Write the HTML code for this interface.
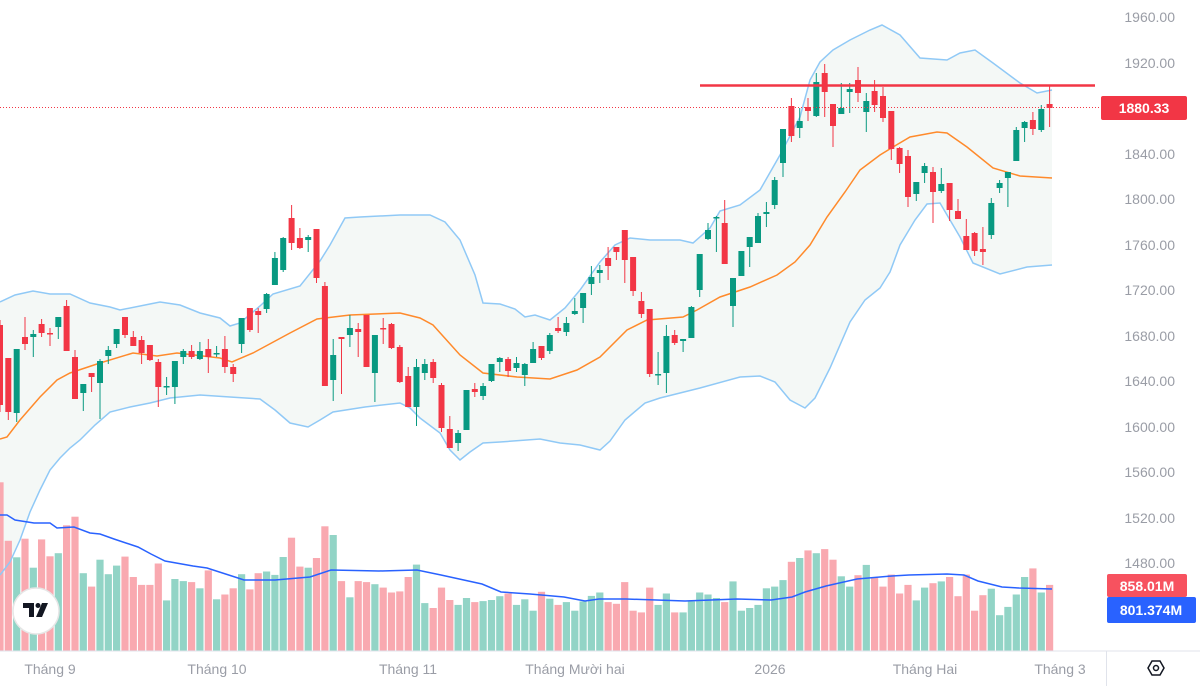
<!DOCTYPE html>
<html><head><meta charset="utf-8"><style>
html,body{margin:0;padding:0;background:#fff;}
svg{display:block;font-family:"Liberation Sans",sans-serif;}
</style></head><body>
<svg id="c" width="1200" height="686" xmlns="http://www.w3.org/2000/svg"></svg>
<script>
const S=document.getElementById('c');let h='';
const pts=a=>a.map(p=>p.join(',')).join(' ');
const U=[[0,302],[15,295],[33,291],[50,294],[70,294],[90,303],[110,307],[120,310],[150,304],[160,302],[180,305],[200,313],[220,318],[230,326],[240,323],[260,306],[273,294],[300,286],[320,261],[330,245],[345,218],[360,217],[400,215],[430,215],[445,222],[460,240],[475,275],[483,303],[500,304],[515,309],[525,317],[535,315],[550,320],[565,308],[580,290],[600,262],[615,245],[630,238],[650,240],[680,240],[693,243],[710,228],[720,211],[740,205],[760,190],[780,155],[800,117],[810,80],[820,62],[833,50],[850,40],[870,30],[882,25],[900,35],[920,58],[947,60],[960,53],[975,50],[993,63],[1020,83],[1037,93],[1052,90]];
const L=[[0,575],[10,562],[20,540],[30,512],[40,490],[50,470],[60,458],[70,448],[80,440],[95,425],[110,412],[130,407],[150,403],[170,398],[200,395],[230,397],[260,399],[275,410],[290,423],[308,427],[320,420],[333,412],[365,407],[400,403],[410,408],[420,418],[440,433],[450,450],[460,460],[470,452],[483,443],[500,442],[540,439],[560,443],[580,445],[600,450],[610,441],[625,420],[645,403],[660,398],[700,388],[740,377],[760,376],[775,382],[790,400],[805,408],[815,398],[830,368],[850,322],[865,300],[880,288],[890,272],[900,245],[915,220],[927,204],[940,203],[960,237],[973,263],[1000,274],[1027,267],[1052,265]];
const M=[[0,439],[7,437],[20,420],[40,397],[57,380],[70,373],[100,363],[133,353],[157,356],[177,353],[220,358],[232,362],[253,353],[290,333],[317,319],[350,315],[400,313],[420,318],[433,325],[460,355],[483,373],[517,377],[550,379],[577,370],[600,357],[627,330],[647,320],[683,317],[697,310],[720,297],[750,287],[777,275],[795,262],[810,245],[827,217],[845,192],[860,170],[880,155],[893,147],[910,137],[937,132],[947,133],[967,147],[993,168],[1020,176],[1052,178]];
const VM=[[0,515],[7,515],[15,520],[34,523],[50,523],[57,528],[74,527],[90,533],[100,534],[114,539],[138,547],[151,554],[165,561],[193,566],[207,568],[238,578],[244,580],[275,580],[310,577],[331,570],[379,571],[417,570],[441,575],[482,584],[501,592],[530,594],[564,597],[585,601],[599,599],[626,599],[685,601],[737,599],[771,600],[792,597],[805,592],[826,586],[857,579],[892,576],[909,575],[947,574],[964,575],[978,581],[1002,587],[1019,588],[1052,589]];
h+=`<polygon points="${pts(U)} ${pts(L.slice().reverse())}" fill="#f4f8f6"/>`;
// volume
const vz=[22,192,240,186,270,188,237,228,147,122,286,325,247,289,264,238,297,320,320,258,365,303,309,312,330,278,362,348,330,289,333,286,281,291,239,183,267,270,242,150,175,309,356,309,312,318,328,342,339,297,261,373,387,328,364,378,358,370,367,364,353,345,378,362,395,
340,360,378,370,395,368,352,342,370,375,312,395,400,328,378,345,400,400,368,342,348,358,370,310,395,387,378,330,325,306,253,242,220,228,216,247,295,325,292,262,300,325,290,345,320,365,328,315,310,297,353,290,395,350,331,408,384,348,297,272,342,320];
const vc="rrgrgrrgrrgrgggrrrrrgggrgrgrrgrrgggrrgrrgrgrrgrrrrggrrrggrgggrggg"+"rgrgggggrrrrrrggrgggggrgggggggrgrgrrggrgrrrrrggrgrrrrrgggggrgr";
for(let i=0;i<vz.length;i++){const x=8.33*i;const top=651-(512-vz[i])/2.904;
h+=`<rect x="${(x-3.6).toFixed(1)}" y="${top.toFixed(1)}" width="7.2" height="${(651-top).toFixed(1)}" fill="${vc[i]=='g'?'#92d4c6':'#f9a9b0'}"/>`;}
h+=`<polyline points="${pts(U)}" fill="none" stroke="#90c9f6" stroke-width="1.5"/>`;
h+=`<polyline points="${pts(L)}" fill="none" stroke="#90c9f6" stroke-width="1.5"/>`;
h+=`<polyline points="${pts(M)}" fill="none" stroke="#ff8a2b" stroke-width="1.5"/>`;
h+=`<polyline points="${pts(VM)}" fill="none" stroke="#2962ff" stroke-width="1.5"/>`;
const C=`r 325 405 320 412|r 358 412 358 420|g 349 413 349 422|r 337 344 317 350|g 334 337 330 357|r 324 333 319 337|r 333 334 328 346|g 317 327 317 339|r 306 351 300 351|r 357 399 350 399|g 384 393 384 411|r 373 377 373 392|g 361 383 359 419|g 350 356 346 364|g 329 344 329 348|r 317 335 317 338|r 337 346 331 346|r 340 353 336 364|r 345 360 345 361|r 362 387 359 407|g 386 387 377 395|g 361 387 361 404|g 351 357 349 364|r 351 357 345 359|g 351 359 342 360|r 349 357 339 373|g 353 354 346 357|r 349 367 336 373|r 367 374 364 382|g 318 344 318 353|r 308 330 308 332|r 311 315 308 333|g 294 309 293 313|g 258 285 252 285|g 238 270 237 272|r 218 243 205 250|r 238 248 228 249|g 237 240 235 252|r 229 278 229 283|r 286 386 282 386|g 355 380 339 401|r 337 339 337 394|g 328 335 315 347|r 329 332 323 357|r 315 367 315 367|g 335 373 335 402|r 328 329 318 344|r 324 348 323 349|r 347 382 345 383|r 376 407 367 407|g 367 407 359 426|g 364 373 359 380|r 362 378 359 383|r 385 428 383 432|r 429 448 416 448|g 433 443 430 451|g 390 430 390 430|r 389 392 383 397|g 386 396 383 400|g 364 381 364 382|g 358 362 357 372|r 359 371 357 377|g 363 368 357 372|g 364 375 363 386|g 349 363 342 363|r 346 358 346 360|g 335 351 333 354|r 328 331 317 333|g 323 332 317 336|g 311 314 298 315|g 293 308 293 323|g 277 284 266 295|g 270 273 265 283|r 258 266 247 280|r 247 252 247 260|r 230 260 230 283|r 257 291 257 296|r 301 314 292 318|r 309 374 309 377|g 374 375 352 385|g 336 373 325 393|r 335 343 330 345|g 339 341 339 352|g 307 338 306 338|g 254 290 254 297|g 230 239 223 240|g 217 218 216 252|r 223 264 200 264|g 278 306 278 327|g 251 276 251 276|g 237 247 237 267|g 216 243 213 243|g 212 214 202 227|g 180 205 177 209|g 129 163 129 177|r 106 136 98 142|g 121 128 108 138|r 107 111 98 121|g 82 116 73 117|r 73 92 64 117|r 104 126 104 147|g 108 114 83 114|g 89 92 83 113|r 80 93 67 102|g 101 112 93 132|r 91 105 80 112|r 96 118 87 122|r 111 149 111 160|r 148 164 147 173|r 156 197 150 207|g 182 194 182 201|g 166 173 163 183|r 172 192 167 223|g 184 191 168 193|r 183 210 183 221|r 211 219 199 219|r 236 250 219 250|r 233 251 232 256|r 249 252 227 265|g 203 235 198 239|g 183 188 180 193|g 172 178 172 207|g 130 161 127 161|g 122 128 121 142|r 120 129 112 135|g 109 130 105 132|r 104 108 86 127`.split('|');
C.forEach((s,i)=>{const p=s.split(' ');const col=p[0]=='g'?'#089981':'#f23645';const x=8.33*i;const bt=+p[1],bb=Math.max(+p[2],+p[1]+1.5);
h+=`<line x1="${x.toFixed(1)}" x2="${x.toFixed(1)}" y1="${p[3]}" y2="${p[4]}" stroke="${col}" stroke-width="1"/>`;
h+=`<rect x="${(x-3).toFixed(1)}" y="${bt}" width="6" height="${(bb-bt).toFixed(1)}" fill="${col}"/>`;});
h+=`<line x1="0" x2="1100" y1="107.5" y2="107.5" stroke="#f23645" stroke-width="1" stroke-dasharray="1,2"/>`;
h+=`<line x1="700" x2="1095" y1="85.5" y2="85.5" stroke="#f23645" stroke-width="2.5"/>`;
h+=`<line x1="0" x2="1200" y1="651" y2="651" stroke="#e0e3eb" stroke-width="1"/>`;
h+=`<line x1="1106.5" x2="1106.5" y1="651" y2="686" stroke="#e0e3eb" stroke-width="1"/>`;
const yl=[[1960,17],[1920,63],[1840,154],[1800,199],[1760,245],[1720,290],[1680,336],[1640,381],[1600,427],[1560,472],[1520,518],[1480,563]];
yl.forEach(([v,y])=>{h+=`<text x="1175" y="${y+5}" text-anchor="end" font-size="14" fill="#9a9da6">${v}.00</text>`;});
h+=`<rect x="1101" y="96" width="86" height="24" rx="2" fill="#f23645"/><text x="1144" y="113" text-anchor="middle" font-size="14" font-weight="bold" fill="#fff">1880.33</text>`;
h+=`<rect x="1107" y="574" width="80" height="23" rx="2" fill="#f7525f"/><text x="1147" y="591" text-anchor="middle" font-size="14" font-weight="bold" fill="#fff">858.01M</text>`;
h+=`<rect x="1107" y="597" width="89" height="26" rx="2" fill="#2962ff"/><text x="1151" y="615" text-anchor="middle" font-size="14" font-weight="bold" fill="#fff">801.374M</text>`;
[["Tháng 9",50],["Tháng 10",217],["Tháng 11",408],["Tháng Mười hai",575],["2026",770],["Tháng Hai",925],["Tháng 3",1060]].forEach(([t,x])=>{h+=`<text x="${x}" y="674" text-anchor="middle" font-size="14" fill="#9a9da6">${t}</text>`;});
h+=`<polygon points="1148,668 1152,661 1160,661 1164,668 1160,675 1152,675" fill="none" stroke="#131722" stroke-width="1.5"/><circle cx="1156" cy="668" r="2.5" fill="none" stroke="#131722" stroke-width="1.5"/>`;
h+=`<circle cx="36" cy="611" r="23" fill="#fff" stroke="#e6e6e6" stroke-width="1.5"/>`;
h+=`<path d="M23 603h11v14h-5v-9h-6z" fill="#131722"/><circle cx="38" cy="605.5" r="2.5" fill="#131722"/><path d="M42 603h6l-6 14h-6z" fill="#131722"/>`;
S.innerHTML=h;
</script>
</body></html>
